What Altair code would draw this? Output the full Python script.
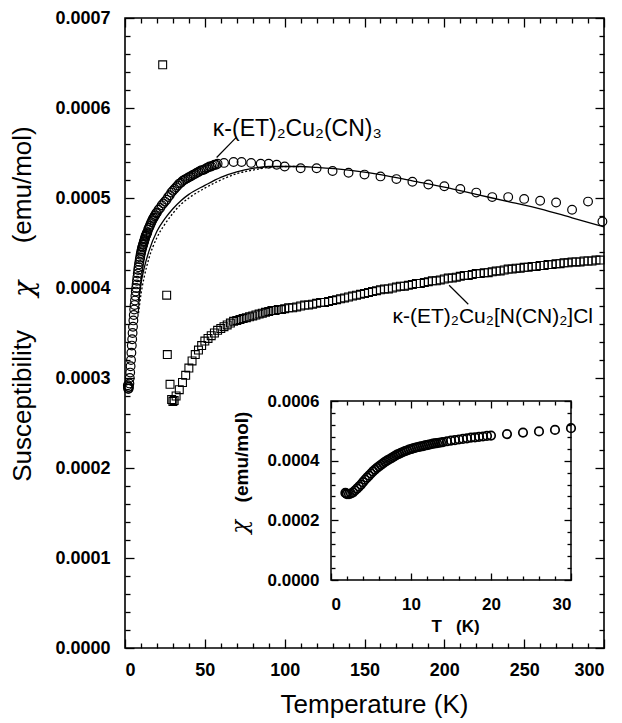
import altair as alt
import pandas as pd

# ---------------- data ----------------
# kappa-(ET)2Cu2(CN)3, low-temperature part (used in main plot and inset)
low_T = [1.8, 1.9, 2.0,
         2.25, 2.5, 2.75, 3.0, 3.25, 3.5, 3.75, 4.0, 4.25, 4.5, 4.75, 5.0,
         5.25, 5.5, 5.75, 6.0, 6.25, 6.5, 6.75, 7.0, 7.25, 7.5, 7.75, 8.0,
         8.25, 8.5, 8.75, 9.0, 9.25, 9.5, 9.75, 10.0, 10.25, 10.5, 10.75, 11.0,
         11.25, 11.5, 11.75, 12.0, 12.25, 12.5, 12.75, 13.0, 13.25, 13.5, 13.75, 14.0,
         14.5, 15.0, 15.5, 16.0, 16.5, 17.0, 17.5, 18.0, 18.5, 19.0, 19.5, 20.0]
low_chi = [0.000292, 0.000290, 0.000288,
           0.000288, 0.000290, 0.000294, 0.000300, 0.000306, 0.000313, 0.000320, 0.000328,
           0.000336, 0.000343, 0.000350, 0.000357, 0.000364, 0.000370, 0.000376, 0.000381,
           0.000386, 0.000391, 0.000396, 0.000400, 0.000404, 0.000408, 0.000412, 0.000416,
           0.000420, 0.000423, 0.000426, 0.000429, 0.000432, 0.000434, 0.000437, 0.000439,
           0.000441, 0.000443, 0.000445, 0.000446, 0.000448, 0.000449, 0.000451, 0.000452,
           0.000454, 0.000455, 0.000457, 0.000458, 0.000459, 0.000460, 0.000461, 0.000462,
           0.000465, 0.000467, 0.000469, 0.000471, 0.000473, 0.000475, 0.000477, 0.000478,
           0.000480, 0.000481, 0.000483, 0.000484]

# inset points above 20 K
inset_hi_T = [22, 24, 26, 28, 30]
inset_hi_chi = [0.000489, 0.000494, 0.000498, 0.000503, 0.000509]

# main plot circles above 20 K
mid_T = [21, 22, 23, 24, 25, 26, 27, 28, 29, 30, 31, 32, 33, 34, 35, 36, 37, 38, 39,
         40, 41, 42, 43, 44, 45, 46, 47, 48, 49, 50, 51, 52, 53, 54, 55, 56, 57, 58]
mid_chi = [0.000487, 0.000489, 0.000492, 0.000494, 0.000496, 0.000498, 0.000501, 0.000503,
           0.000506, 0.000508, 0.000510, 0.000512, 0.000514, 0.000516, 0.000517, 0.000519,
           0.000520, 0.000521, 0.000522, 0.000523, 0.000524, 0.000525, 0.000526, 0.000527,
           0.000528, 0.000529, 0.000530, 0.000531, 0.000531, 0.000532, 0.000533, 0.000534,
           0.000535, 0.000535, 0.000536, 0.000537, 0.000537, 0.000538]
plat_T = [62, 68, 73, 79, 85, 90, 95, 100]
plat_chi = [0.000539, 0.000540, 0.000540, 0.000539, 0.000538, 0.000538, 0.000537, 0.000535]
hi_T = [110, 120, 130, 140, 150, 160, 170, 180, 190, 200, 210, 220, 230, 240, 250,
        260, 270, 280, 290, 299]
hi_chi = [0.000533, 0.000533, 0.000530, 0.000528, 0.000526, 0.000524, 0.000521, 0.000518,
          0.000515, 0.000513, 0.000510, 0.000506, 0.000501, 0.000501, 0.000499, 0.000497,
          0.000495, 0.000487, 0.000496, 0.000474]

# kappa-(ET)2Cu2[N(CN)2]Cl squares
sq_lo_T = [23.6, 26.1, 26.5, 28.2, 29.2, 30.0, 30.8,
           32, 34, 36, 38, 40, 42, 44, 46, 48, 50, 52, 54, 56, 58, 60, 62, 64, 66, 68,
           70, 72, 74, 76, 78, 80, 82, 84, 86, 88, 90, 92, 94, 96, 98, 100]
sq_lo_chi = [0.000648, 0.000392, 0.000326, 0.000293, 0.000276, 0.000274, 0.000275,
             0.000280, 0.000287, 0.000295, 0.000303, 0.000311, 0.000319, 0.000326, 0.000331,
             0.000336, 0.000341, 0.000344, 0.000347, 0.000350, 0.000353, 0.000355, 0.000357,
             0.000359, 0.000361, 0.000363, 0.000364, 0.000365, 0.000366, 0.000367, 0.000368,
             0.000369, 0.000370, 0.000371, 0.000372, 0.000373, 0.000374, 0.000375, 0.000375,
             0.000376, 0.000376, 0.000377]
sq_hi_T = [102.5, 105, 107.5, 110, 112.5, 115, 117.5, 120, 122.5, 125, 127.5, 130,
           132.5, 135, 137.5, 140, 142.5, 145, 147.5, 150, 152.5, 155, 157.5, 160,
           162.5, 165, 167.5, 170, 172.5, 175, 177.5, 180, 182.5, 185, 187.5, 190,
           192.5, 195, 197.5, 200, 202.5, 205, 207.5, 210, 212.5, 215, 217.5, 220,
           222.5, 225, 227.5, 230, 232.5, 235, 237.5, 240, 242.5, 245, 247.5, 250,
           252.5, 255, 257.5, 260, 262.5, 265, 267.5, 270, 272.5, 275, 277.5, 280,
           282.5, 285, 287.5, 290, 292.5, 295, 297.5]
sq_hi_chi = [0.000378, 0.000378, 0.000379, 0.000380,
             0.000381, 0.000381, 0.000382, 0.000383,
             0.000384, 0.000384, 0.000385, 0.000386,
             0.000387, 0.000388, 0.000389, 0.000390,
             0.000391, 0.000392, 0.000393, 0.000394,
             0.000395, 0.000396, 0.000397, 0.000398,
             0.000399, 0.000399, 0.000400, 0.000401,
             0.000402, 0.000402, 0.000403, 0.000404,
             0.000405, 0.000405, 0.000406, 0.000407,
             0.000408, 0.000408, 0.000409, 0.000410,
             0.000411, 0.000411, 0.000412, 0.000413,
             0.000414, 0.000414, 0.000415, 0.000416,
             0.000416, 0.000417, 0.000417, 0.000418,
             0.000419, 0.000419, 0.000420, 0.000421,
             0.000421, 0.000422, 0.000422, 0.000423,
             0.000423, 0.000424, 0.000424, 0.000425,
             0.000425, 0.000426, 0.000426, 0.000427,
             0.000427, 0.000428, 0.000428, 0.000429,
             0.000429, 0.000429, 0.000430, 0.000430,
             0.000430, 0.000431, 0.000431]

# model curves
fit_T = [8.5, 10, 12, 15, 20, 25, 30, 35, 40, 50, 60, 70, 80, 90, 100, 110, 120,
         140, 160, 180, 200, 220, 240, 260, 280, 300]
fit_chi = [0.000385, 0.000405, 0.000422, 0.000441, 0.000463, 0.000477, 0.000488,
           0.000497, 0.000504, 0.000514, 0.000523, 0.000529, 0.000533, 0.000535,
           0.000535, 0.000535, 0.000534, 0.000531, 0.000526, 0.000519, 0.000512,
           0.000504, 0.000496, 0.000488, 0.000478, 0.000468]
dot_T = [8.5, 10, 12, 15, 20, 25, 30, 35, 40, 50, 60, 70, 80, 90, 100, 110]
dot_chi = [0.000372, 0.000393, 0.000412, 0.000433, 0.000456, 0.000471, 0.000483,
           0.000493, 0.000500, 0.000511, 0.000520, 0.000527, 0.000531, 0.000534,
           0.000535, 0.000535]

# annotations
label_text = ["κ-(ET)₂Cu₂(CN)₃", "κ-(ET)₂Cu₂[N(CN)₂]Cl"]
label_T = [55.0, 167.5]
label_chi = [0.000569, 0.000361]
label_size = [23, 21]
ptr_T0 = [57.4, 203.0]
ptr_chi0 = [0.000545, 0.000403]
ptr_T1 = [70.0, 215.0]
ptr_chi1 = [0.000568, 0.000382]
chi_sym_main = {"T": -62.6, "chi": 0.000399}
chi_sym_inset = {"T": -11.4, "chi": 0.000178}

# axis ticks
x_major = [0, 50, 100, 150, 200, 250, 300]
x_minor = [v for v in range(10, 300, 10) if v % 50 != 0]
y_major = [round(i * 0.0001, 5) for i in range(8)]
y_minor = [round(i * 0.00002, 5) for i in range(36) if i % 5 != 0]
ix_major = [0, 10, 20, 30]
ix_minor = [v for v in range(2, 30, 2) if v % 10 != 0]
iy_major = [0.0, 0.0002, 0.0004, 0.0006]
iy_minor = [round(i * 0.00004, 5) for i in range(16) if i % 5 != 0]
inset_T_dom = [0, 30]
inset_chi_dom = [0.0, 0.0006]

# ---------------- layout ----------------
W, H = 479, 630
FONT = "Liberation Sans"
MAJ, MIN = 9, 5
IMAJ, IMIN = 7, 4
IX0, IX1 = 206, 446      # inset x range (px in view)
IY0, IY1 = 562, 383      # inset y range (bottom, top)
NB = "\u00a0"

xs = alt.Scale(domain=[0, 300], nice=False, zero=False)
ys = alt.Scale(domain=[0, 0.0007], nice=False, zero=False)
ixs = alt.Scale(domain=inset_T_dom, range=[IX0, IX1], nice=False, zero=False)
iys = alt.Scale(domain=inset_chi_dom, range=[IY0, IY1], nice=False, zero=False)


def ax(orient, values, size, offset, **kw):
    base = dict(orient=orient, values=values, tickSize=size, offset=offset,
                domain=False, grid=False, labels=False, ticks=True,
                tickColor="black", tickWidth=1.3)
    base.update(kw)
    return alt.Axis(**base)


lab = dict(labels=True, labelFont=FONT, labelFontWeight="bold", labelColor="black")

main_df = pd.DataFrame({"T": low_T + mid_T + plat_T + hi_T,
                        "chi": low_chi + mid_chi + plat_chi + hi_chi})
sq_df = pd.DataFrame({"T": sq_lo_T + sq_hi_T, "chi": sq_lo_chi + sq_hi_chi})
fit_df = pd.DataFrame({"T": fit_T, "chi": fit_chi})
dot_df = pd.DataFrame({"T": dot_T, "chi": dot_chi})
lab_df = pd.DataFrame({"T": label_T, "chi": label_chi, "text": label_text,
                       "size": label_size})
ptr_df = pd.DataFrame({"T0": ptr_T0, "c0": ptr_chi0, "T1": ptr_T1, "c1": ptr_chi1})
inset_df = pd.DataFrame({"T": low_T + inset_hi_T, "chi": low_chi + inset_hi_chi})
frame_df = pd.DataFrame({"T0": [inset_T_dom[0]], "T1": [inset_T_dom[1]],
                         "c0": [inset_chi_dom[0]], "c1": [inset_chi_dom[1]]})

circles = alt.Chart(main_df).mark_point(
    shape="circle", filled=False, size=76, color="black", strokeWidth=1.2, opacity=1
).encode(
    x=alt.X("T:Q", scale=xs, axis=ax(
        "bottom", x_major, MAJ, -MAJ, labelFontSize=18, labelPadding=13,
        title="Temperature (K)", titleFont=FONT, titleFontSize=26,
        titleFontWeight="normal", titleX=249, titleY=73, titleAlign="center",
        titleBaseline="alphabetic", **lab)),
    y=alt.Y("chi:Q", scale=ys, axis=ax(
        "left", y_major, MAJ, -MAJ, labelFontSize=18, labelPadding=15, format=".4f",
        title="Susceptibility" + NB * 12 + "(emu/mol)",
        titleFont=FONT, titleFontSize=26, titleFontWeight="normal", titleX=-111.5,
        titleY=285.5, titleAngle=270, titleAlign="center", titleBaseline="middle", **lab)),
)

squares = alt.Chart(sq_df).mark_point(
    shape="square", filled=False, size=62, color="black", strokeWidth=1.1, opacity=1
).encode(
    x=alt.X("T:Q", scale=xs, title=None, axis=ax("bottom", x_minor, MIN, -MIN)),
    y=alt.Y("chi:Q", scale=ys, title=None, axis=ax("left", y_minor, MIN, -MIN)),
)

fit_line = alt.Chart(fit_df).mark_line(
    color="black", strokeWidth=1.3, interpolate="monotone"
).encode(
    x=alt.X("T:Q", scale=xs, title=None, axis=ax("top", x_major, MAJ, -MAJ)),
    y=alt.Y("chi:Q", scale=ys, title=None, axis=ax("right", y_major, MAJ, -MAJ)),
)

dot_line = alt.Chart(dot_df).mark_line(
    color="black", strokeWidth=1.3, strokeDash=[2, 2], interpolate="monotone"
).encode(
    x=alt.X("T:Q", scale=xs, title=None, axis=ax("top", x_minor, MIN, -MIN)),
    y=alt.Y("chi:Q", scale=ys, title=None, axis=ax("right", y_minor, MIN, -MIN)),
)

pointers = alt.Chart(ptr_df).mark_rule(color="black", strokeWidth=1.2).encode(
    x=alt.X("T0:Q", scale=xs, axis=None), x2="T1:Q",
    y=alt.Y("c0:Q", scale=ys, axis=None), y2="c1:Q",
)

labels = alt.Chart(lab_df).mark_text(
    align="left", baseline="alphabetic", font=FONT, color="black"
).encode(
    x=alt.X("T:Q", scale=xs, axis=None),
    y=alt.Y("chi:Q", scale=ys, axis=None),
    text="text:N",
    size=alt.Size("size:Q", scale=None, legend=None),
)

chi_main = alt.Chart(pd.DataFrame([chi_sym_main])).mark_text(
    text="χ", font="DejaVu Serif", fontStyle="italic", fontSize=27, angle=270,
    align="center", baseline="middle", color="black"
).encode(
    x=alt.X("T:Q", scale=xs, axis=None),
    y=alt.Y("chi:Q", scale=ys, axis=None),
)

chi_inset = alt.Chart(pd.DataFrame([chi_sym_inset])).mark_text(
    text="χ", font="DejaVu Serif", fontStyle="italic", fontSize=23, angle=270,
    align="center", baseline="middle", color="black"
).encode(
    x=alt.X("T:Q", scale=ixs, axis=None),
    y=alt.Y("chi:Q", scale=iys, axis=None),
)

inset_pts = alt.Chart(inset_df).mark_point(
    shape="circle", filled=False, size=72, color="black", strokeWidth=1.7, opacity=1
).encode(
    x=alt.X("T:Q", scale=ixs, axis=ax(
        "bottom", ix_major, IMAJ, IY0 - IMAJ - H, labelFontSize=17, labelPadding=16,
        title="T" + NB * 3 + "(K)", titleFont=FONT, titleFontSize=17,
        titleFontWeight="bold", titleX=330, titleY=58, titleAlign="center",
        titleBaseline="alphabetic", **lab)),
    y=alt.Y("chi:Q", scale=iys, axis=ax(
        "left", iy_major, IMAJ, -(IX0 + IMAJ), labelFontSize=17, labelPadding=12,
        format=".4f", title="(emu/mol)", titleFont=FONT, titleFontSize=19,
        titleFontWeight="bold", titleX=-96.5, titleY=438.5, titleAngle=270,
        titleAlign="center", titleBaseline="middle", **lab)),
)

inset_frame = alt.Chart(frame_df).mark_rect(
    fillOpacity=0, stroke="black", strokeWidth=1.5
).encode(
    x=alt.X("T0:Q", scale=ixs, title=None,
            axis=ax("bottom", ix_minor, IMIN, IY0 - IMIN - H)),
    x2="T1:Q",
    y=alt.Y("c0:Q", scale=iys, title=None, axis=ax("left", iy_minor, IMIN, -(IX0 + IMIN))),
    y2="c1:Q",
)

inset_top_major = alt.Chart(frame_df).mark_rect(fillOpacity=0, strokeOpacity=0).encode(
    x=alt.X("T0:Q", scale=ixs, title=None, axis=ax("top", ix_major, IMAJ, -(IY1 + IMAJ))),
    x2="T1:Q",
    y=alt.Y("c0:Q", scale=iys, title=None,
            axis=ax("right", iy_major, IMAJ, IX1 - IMAJ - W)),
    y2="c1:Q",
)

inset_top_minor = alt.Chart(frame_df).mark_rect(fillOpacity=0, strokeOpacity=0).encode(
    x=alt.X("T0:Q", scale=ixs, title=None, axis=ax("top", ix_minor, IMIN, -(IY1 + IMIN))),
    x2="T1:Q",
    y=alt.Y("c0:Q", scale=iys, title=None,
            axis=ax("right", iy_minor, IMIN, IX1 - IMIN - W)),
    y2="c1:Q",
)

chart = alt.layer(
    squares, circles, fit_line, dot_line, pointers, labels, chi_main,
    inset_frame, inset_top_major, inset_top_minor, inset_pts, chi_inset,
).resolve_scale(
    x="independent", y="independent", size="independent"
).resolve_axis(
    x="independent", y="independent"
).properties(
    width=W, height=H,
    autosize=alt.AutoSizeParams(type="none"),
    padding={"left": 117, "top": 10, "right": 10, "bottom": 74},
    background="white",
).configure_view(
    stroke="black", strokeWidth=1.6
)

chart.save("out.html", embed_options={"renderer": "svg", "actions": False})
